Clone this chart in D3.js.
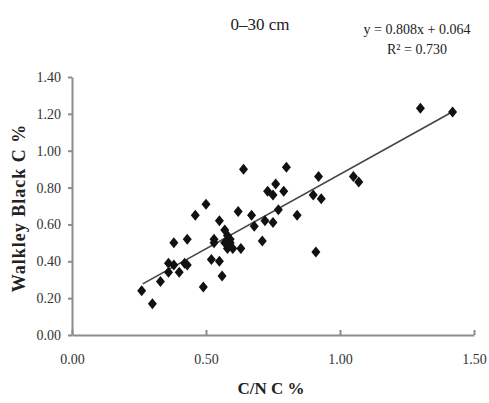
<!DOCTYPE html>
<html>
<head lang="en">
    <meta charset="UTF-8">
    <script src="https://cdn.jsdelivr.net/npm/d3@7/dist/d3.min.js" charset="utf-8"></script>
    <title></title>
    <style>
        body { margin: 0; background: #fff; }
        text { font-family: "Liberation Serif", "Times New Roman", serif; fill: #222; }
        .axis path, .axis line { stroke: #8c8c8c; stroke-width: 2; }
        .axis text { font-size: 14px; fill: #333; }
    </style>
</head>
<body>
<div id="chart"></div>

<script>
    // C/N C % values
    var cnC = [0.26, 0.30, 0.33, 0.36, 0.36, 0.38, 0.38, 0.40, 0.42, 0.43,
               0.43, 0.46, 0.49, 0.50, 0.52, 0.53, 0.53, 0.55, 0.55, 0.56,
               0.57, 0.58, 0.57, 0.59, 0.58, 0.60, 0.59, 0.62, 0.63, 0.64,
               0.67, 0.68, 0.71, 0.72, 0.73, 0.75, 0.75, 0.76, 0.77, 0.79,
               0.80, 0.84, 0.90, 0.91, 0.92, 0.93, 1.05, 1.07, 1.30, 1.42];
    // Walkley Black C % values
    var wbC = [0.24, 0.17, 0.29, 0.39, 0.34, 0.38, 0.50, 0.34, 0.39, 0.38,
               0.52, 0.65, 0.26, 0.71, 0.41, 0.52, 0.50, 0.62, 0.40, 0.32,
               0.57, 0.54, 0.50, 0.50, 0.47, 0.47, 0.52, 0.67, 0.47, 0.90,
               0.65, 0.59, 0.51, 0.62, 0.78, 0.76, 0.61, 0.82, 0.68, 0.78,
               0.91, 0.65, 0.76, 0.45, 0.86, 0.74, 0.86, 0.83, 1.23, 1.21];

    var xTicks = [0, 0.5, 1.0, 1.5];
    var yTicks = [0, 0.2, 0.4, 0.6, 0.8, 1.0, 1.2, 1.4];

    // trend line y = 0.808x + 0.064
    var slope = 0.808, intercept = 0.064;
    var fitRange = [0.264, 1.42];

    var width = 489, height = 403;

    var svg = d3.select("#chart").append("svg")
            .attr("width", width)
            .attr("height", height);

    var x = d3.scaleLinear().domain([0, 1.5]).range([72, 474]);
    var y = d3.scaleLinear().domain([0, 1.4]).range([335, 77]);

    //Axes
    svg.append("g")
            .attr("class", "axis")
            .attr("transform", "translate(0,335)")
            .call(d3.axisBottom(x).tickValues(xTicks).tickSize(-5).tickSizeOuter(0)
                    .tickPadding(19).tickFormat(d3.format(".2f")));

    svg.append("g")
            .attr("class", "axis")
            .attr("transform", "translate(72,0)")
            .call(d3.axisLeft(y).tickValues(yTicks).tickSize(4).tickSizeOuter(0)
                    .tickPadding(7).tickFormat(d3.format(".2f")));

    //Trend line
    svg.append("line")
            .attr("x1", x(fitRange[0]))
            .attr("y1", y(slope * fitRange[0] + intercept))
            .attr("x2", x(fitRange[1]))
            .attr("y2", y(slope * fitRange[1] + intercept))
            .style("stroke", "#444")
            .style("stroke-width", 1.6);

    //Points
    var pts = cnC.map(function(d, i) { return {x: d, y: wbC[i]}; });
    svg.selectAll(".pt")
            .data(pts)
            .enter().append("path")
            .attr("class", "pt")
            .attr("d", "M0,-5.5L4.5,0L0,5.5L-4.5,0Z")
            .attr("transform", function(d) {
                return "translate(" + x(d.x) + "," + y(d.y) + ")";
            })
            .style("fill", "#111");

    //Texts
    svg.append("text")
            .attr("x", 260).attr("y", 30)
            .attr("text-anchor", "middle")
            .style("font-size", "17px")
            .text("0–30 cm");

    svg.append("text")
            .attr("x", 417).attr("y", 34)
            .attr("text-anchor", "middle")
            .style("font-size", "14px")
            .text("y = 0.808x + 0.064");

    svg.append("text")
            .attr("x", 417).attr("y", 54)
            .attr("text-anchor", "middle")
            .style("font-size", "14px")
            .text("R² = 0.730");

    svg.append("text")
            .attr("transform", "translate(25,208) rotate(-90)")
            .attr("text-anchor", "middle")
            .style("font-size", "18px")
            .style("font-weight", "bold")
            .style("letter-spacing", "1px")
            .text("Walkley Black C %");

    svg.append("text")
            .attr("x", 271).attr("y", 394)
            .attr("text-anchor", "middle")
            .style("font-size", "17px")
            .style("font-weight", "bold")
            .text("C/N C %");
</script>
</body>
</html>
